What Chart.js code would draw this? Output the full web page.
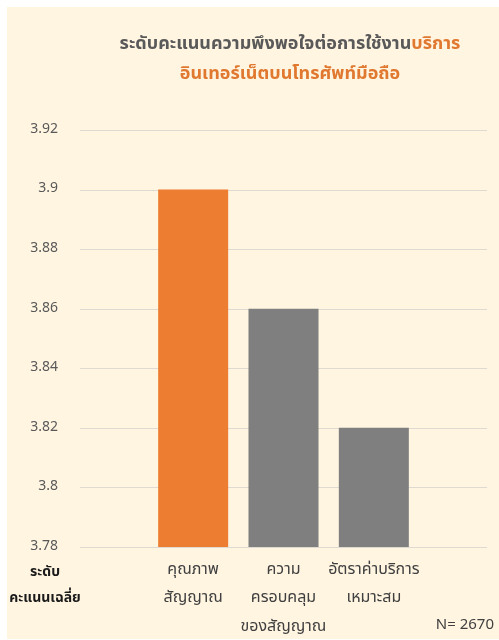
<!DOCTYPE html>
<html>
<head>
<meta charset="utf-8">
<script src="https://cdn.jsdelivr.net/npm/chart.js@4.4.1/dist/chart.umd.min.js"></script>
<style>
  html, body { margin: 0; padding: 0; background: #ffffff; }
  #wrap { width: 499px; height: 640px; position: relative; }
</style>
</head>
<body>
<div id="wrap"><canvas id="chart" width="499" height="640"></canvas></div>
<script>
// Average satisfaction scores for mobile internet service
const categories = [
  ['คุณภาพ', 'สัญญาณ'],
  ['ความ', 'ครอบคลุม', 'ของสัญญาณ'],
  ['อัตราค่าบริการ', 'เหมาะสม']
];
const scores = [3.90, 3.86, 3.82];
const barColors = ['#ED7D31', '#7F7F7F', '#7F7F7F'];
const yTicks = [3.78, 3.80, 3.82, 3.84, 3.86, 3.88, 3.90, 3.92];

const titleLine1 = [['ระดับคะแนนความพึงพอใจต่อการใช้งาน', '#595959'], ['บริการ', '#E0782F']];
const titleLine2 = [['อินเทอร์เน็ตบนโทรศัพท์มือถือ', '#E0782F']];
const yTitle = ['ระดับ', 'คะแนนเฉลี่ย'];
const sampleNote = 'N= 2670';

const FONT = "'Noto Sans Thai', 'Noto Sans', sans-serif";

// cream panel behind everything
const panelPlugin = {
  id: 'panel',
  beforeDraw(chart) {
    const ctx = chart.ctx;
    ctx.save();
    ctx.fillStyle = '#ffffff';
    ctx.fillRect(0, 0, chart.width, chart.height);
    ctx.fillStyle = '#FFF5E1';
    ctx.fillRect(7, 7, chart.width - 7, chart.height - 8);
    ctx.restore();
  }
};

// horizontal grid lines run wider than the bar area
const gridPlugin = {
  id: 'wideGrid',
  beforeDatasetsDraw(chart) {
    const y = chart.scales.y;
    const ctx = chart.ctx;
    ctx.save();
    ctx.strokeStyle = '#DEDAD2';
    ctx.lineWidth = 1;
    yTicks.forEach(v => {
      const py = Math.round(y.getPixelForValue(v)) + 0.5;
      ctx.beginPath();
      ctx.moveTo(80, py);
      ctx.lineTo(487, py);
      ctx.stroke();
    });
    ctx.restore();
  }
};

// title with two colours, axis caption and sample size
const textPlugin = {
  id: 'texts',
  afterDraw(chart) {
    const ctx = chart.ctx;
    ctx.save();
    ctx.textBaseline = 'middle';

    const drawRuns = (runs, cx, cy) => {
      ctx.font = 'bold 18px ' + FONT;
      const total = runs.reduce((w, r) => w + ctx.measureText(r[0]).width, 0);
      let x = cx - total / 2;
      ctx.textAlign = 'left';
      runs.forEach(r => {
        ctx.fillStyle = r[1];
        ctx.fillText(r[0], x, cy);
        x += ctx.measureText(r[0]).width;
      });
    };
    drawRuns(titleLine1, 290, 45);
    drawRuns(titleLine2, 290, 75);

    ctx.textAlign = 'center';
    ctx.fillStyle = '#1a1a1a';
    ctx.font = 'bold 14px ' + FONT;
    ctx.fillText(yTitle[0], 45, 573);
    ctx.fillText(yTitle[1], 45, 599);

    ctx.textAlign = 'right';
    ctx.fillStyle = '#404040';
    ctx.font = '15px ' + FONT;
    ctx.fillText(sampleNote, 494, 626);
    ctx.restore();
  }
};

new Chart(document.getElementById('chart'), {
  type: 'bar',
  data: {
    labels: categories,
    datasets: [{
      data: scores,
      backgroundColor: barColors,
      barPercentage: 0.775,
      categoryPercentage: 1.0
    }]
  },
  options: {
    responsive: false,
    animation: false,
    layout: { padding: { top: 130, right: 80, left: 0, bottom: 0 } },
    plugins: {
      legend: { display: false },
      tooltip: { enabled: false }
    },
    scales: {
      x: {
        offset: true,
        grid: { display: false, drawTicks: false },
        border: { display: false },
        ticks: {
          color: '#404040',
          font: { family: FONT, size: 16, lineHeight: 1.8 },
          padding: 9,
          maxRotation: 0,
          autoSkip: false
        },
        afterFit(scale) { scale.height = 93; }
      },
      y: {
        min: 3.78,
        max: 3.92,
        grid: { display: false, drawTicks: false },
        border: { display: false },
        afterBuildTicks(scale) {
          scale.ticks = yTicks.map(v => ({ value: v }));
        },
        ticks: {
          color: '#595959',
          font: { family: FONT, size: 14 },
          padding: 90,
          callback: v => String(Math.round(v * 100) / 100)
        },
        afterFit(scale) {
          // the wide label gap should not push the plot vertically
          scale.width = 148;
          scale.paddingTop = 8;
          scale.paddingBottom = 8;
        }
      }
    }
  },
  plugins: [panelPlugin, gridPlugin, textPlugin]
});
</script>
</body>
</html>
